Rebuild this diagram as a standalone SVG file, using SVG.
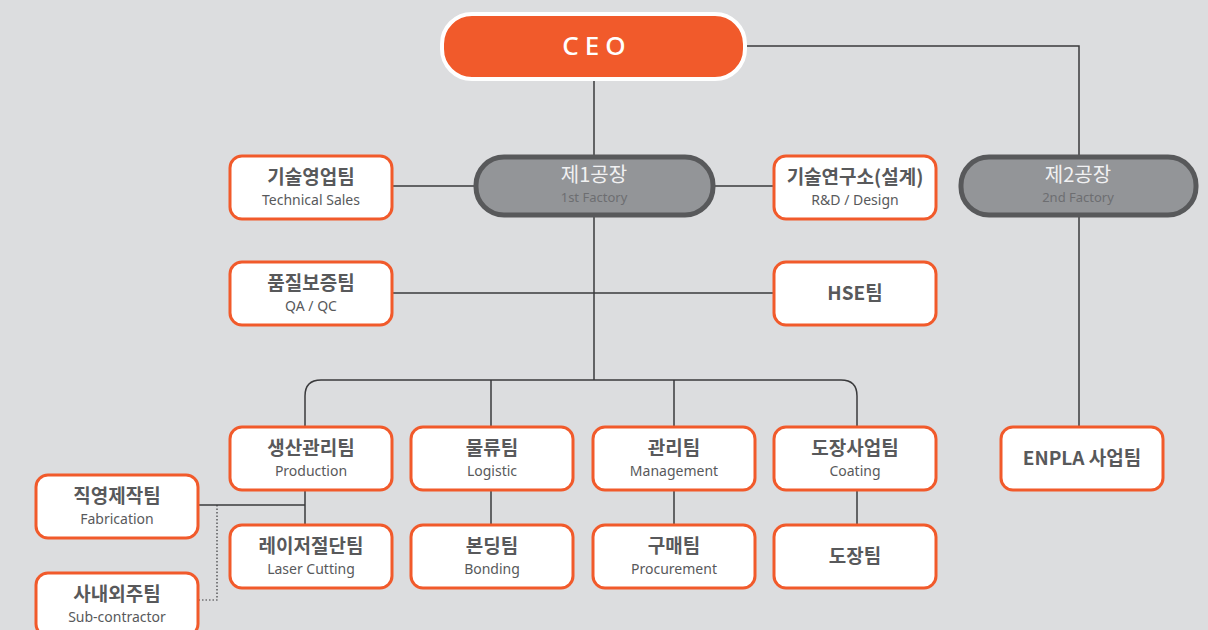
<svg xmlns="http://www.w3.org/2000/svg" width="1208" height="630" viewBox="0 0 1208 630">
<style>
.bg{fill:#dcdddf}
.box{fill:#ffffff;stroke:#f15a2b;stroke-width:3}
.fac{fill:#939598;stroke:#58595b;stroke-width:5}
.ln{fill:none;stroke:#3a3a3c;stroke-width:1.5}
.dot{fill:none;stroke:#3a3a3c;stroke-width:1.2;stroke-dasharray:1.5 2}
.t{font-family:"Noto Sans CJK KR","Noto Sans",sans-serif;font-weight:700;font-size:19px;fill:#58595b;text-anchor:middle}
.s{font-family:"Noto Sans","Noto Sans CJK KR",sans-serif;font-size:14px;fill:#58595b;text-anchor:middle}
.ft{font-family:"Noto Sans CJK KR","Noto Sans",sans-serif;font-size:20px;fill:#f1f1f2;text-anchor:middle}
.fs{font-family:"Noto Sans","Noto Sans CJK KR",sans-serif;font-size:13px;fill:#6d6e71;text-anchor:middle}
</style>
<rect class="bg" x="0" y="0" width="1208" height="630"/>
<g id="connectors">
<path class="ln" d="M594 80V155"/>
<path class="ln" d="M745 46H1079V155"/>
<path class="ln" d="M392 186H474"/>
<path class="ln" d="M715 186H773"/>
<path class="ln" d="M594 215V380"/>
<path class="ln" d="M392 293H773"/>
<path class="ln" d="M305 426V396Q305 380 321 380H841Q857 380 857 396V426"/>
<path class="ln" d="M491 380V426"/>
<path class="ln" d="M674 380V426"/>
<path class="ln" d="M305 490V524"/>
<path class="ln" d="M491 490V524"/>
<path class="ln" d="M674 490V524"/>
<path class="ln" d="M857 490V524"/>
<path class="ln" d="M1079 215V426"/>
<path class="ln" d="M198 505H305"/>
<path class="dot" d="M217 505V600H198"/>
</g>
<g id="ceo">
<rect x="442" y="14" width="303" height="65" rx="30" fill="#f15a2b" stroke="#ffffff" stroke-width="4"/>
<text x="597" y="55" font-family="Noto Sans,sans-serif" font-size="26" font-weight="500" fill="#ffffff" text-anchor="middle" letter-spacing="6">CEO</text>
</g>
<g id="factory1">
<rect class="fac" x="476" y="157" width="237" height="58" rx="28"/>
<text class="ft" x="594" y="182">제1공장</text>
<text class="fs" x="594" y="202">1st Factory</text>
</g>
<g id="factory2">
<rect class="fac" x="961" y="157" width="235" height="58" rx="28"/>
<text class="ft" x="1078" y="182">제2공장</text>
<text class="fs" x="1078" y="202">2nd Factory</text>
</g>
<g id="tech-sales">
<rect class="box" x="230" y="156" width="162" height="63" rx="12"/>
<text class="t" x="311" y="184">기술영업팀</text>
<text class="s" x="311" y="205">Technical Sales</text>
</g>
<g id="rnd">
<rect class="box" x="774" y="156" width="162" height="63" rx="12"/>
<text class="t" x="855" y="184">기술연구소(설계)</text>
<text class="s" x="855" y="205">R&amp;D / Design</text>
</g>
<g id="qaqc">
<rect class="box" x="230" y="262" width="162" height="63" rx="12"/>
<text class="t" x="311" y="290">품질보증팀</text>
<text class="s" x="311" y="311">QA / QC</text>
</g>
<g id="hse">
<rect class="box" x="774" y="262" width="162" height="63" rx="12"/>
<text class="t" x="855" y="300">HSE팀</text>
</g>
<g id="production">
<rect class="box" x="230" y="427" width="162" height="63" rx="12"/>
<text class="t" x="311" y="455">생산관리팀</text>
<text class="s" x="311" y="476">Production</text>
</g>
<g id="logistic">
<rect class="box" x="411" y="427" width="162" height="63" rx="12"/>
<text class="t" x="492" y="455">물류팀</text>
<text class="s" x="492" y="476">Logistic</text>
</g>
<g id="management">
<rect class="box" x="593" y="427" width="162" height="63" rx="12"/>
<text class="t" x="674" y="455">관리팀</text>
<text class="s" x="674" y="476">Management</text>
</g>
<g id="coating">
<rect class="box" x="774" y="427" width="162" height="63" rx="12"/>
<text class="t" x="855" y="455">도장사업팀</text>
<text class="s" x="855" y="476">Coating</text>
</g>
<g id="enpla">
<rect class="box" x="1001" y="427" width="162" height="63" rx="12"/>
<text class="t" x="1082" y="465">ENPLA 사업팀</text>
</g>
<g id="laser">
<rect class="box" x="230" y="525" width="162" height="63" rx="12"/>
<text class="t" x="311" y="553">레이저절단팀</text>
<text class="s" x="311" y="574">Laser Cutting</text>
</g>
<g id="bonding">
<rect class="box" x="411" y="525" width="162" height="63" rx="12"/>
<text class="t" x="492" y="553">본딩팀</text>
<text class="s" x="492" y="574">Bonding</text>
</g>
<g id="procurement">
<rect class="box" x="593" y="525" width="162" height="63" rx="12"/>
<text class="t" x="674" y="553">구매팀</text>
<text class="s" x="674" y="574">Procurement</text>
</g>
<g id="painting">
<rect class="box" x="774" y="525" width="162" height="63" rx="12"/>
<text class="t" x="855" y="563">도장팀</text>
</g>
<g id="fabrication">
<rect class="box" x="36" y="475" width="162" height="63" rx="12"/>
<text class="t" x="117" y="503">직영제작팀</text>
<text class="s" x="117" y="524">Fabrication</text>
</g>
<g id="subcontractor">
<rect class="box" x="36" y="573" width="162" height="63" rx="12"/>
<text class="t" x="117" y="601">사내외주팀</text>
<text class="s" x="117" y="622">Sub-contractor</text>
</g>
</svg>
